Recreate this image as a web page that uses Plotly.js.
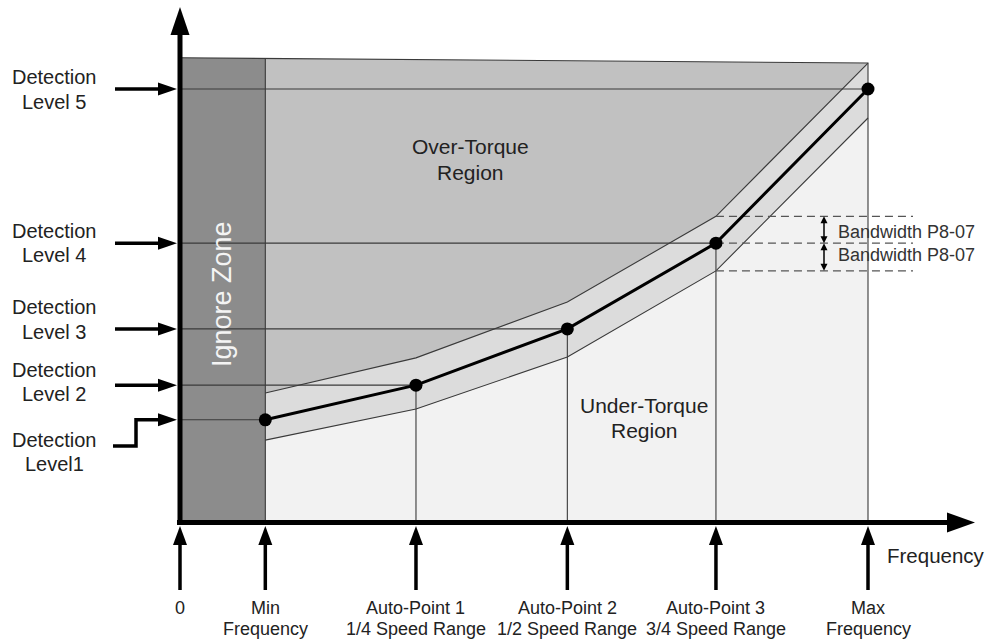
<!DOCTYPE html>
<html><head><meta charset="utf-8">
<script src="https://cdn.plot.ly/plotly-3.0.1.min.js"></script>
<style>html,body{margin:0;padding:0;background:#fff;}#chart{width:992px;height:639px;}</style>
</head><body><div id="chart"></div>
<script>
// ---- data ----
const freqLabelLine1 = ['0', 'Min', 'Auto-Point 1', 'Auto-Point 2', 'Auto-Point 3', 'Max'];
const freqLabelLine2 = ['', 'Frequency', '1/4 Speed Range', '1/2 Speed Range', '3/4 Speed Range', 'Frequency'];
const freqPositions = [0, 12.4, 34.3, 56.3, 77.9, 100];
const levelNames = ['Level1', 'Level 2', 'Level 3', 'Level 4', 'Level 5'];
const detectionLevels = [23.6, 31.6, 44.6, 64.4, 100];
const upperBand = [29.8, 37.9, 50.8, 70.6, 106.0];
const lowerBand = [18.9, 26.1, 38.1, 58.0, 93.3];
const topEdge = [107.2, 106.0];

// ---- pixel mapping (layout only) ----
const X0 = 180, Y0 = 522, KX = 6.88, KY = 4.33;
const dx = p => (p - X0) / KX, dy = p => (Y0 - p) / KY;
const px = x => X0 + x * KX, py = y => Y0 - y * KY;

const FONT = 'Liberation Sans, Arial, sans-serif';
const TXT = '#222';
const pts = freqPositions.slice(1);
const xMin = freqPositions[1], xMax = freqPositions[5], x0 = freqPositions[0];
const topAt = x => topEdge[0] + (topEdge[1] - topEdge[0]) * (x - x0) / (xMax - x0);

const traces = [];
// over-torque (whole area)
traces.push({x: [x0, xMax, xMax, x0], y: [topEdge[0], topEdge[1], 0, 0], fill: 'toself', fillcolor: '#c1c1c1', line: {width: 0}, mode: 'lines', hoverinfo: 'skip'});
// bandwidth band
traces.push({x: pts.concat(pts.slice().reverse()), y: upperBand.concat(lowerBand.slice().reverse()), fill: 'toself', fillcolor: '#dcdcdc', line: {width: 0}, mode: 'lines', hoverinfo: 'skip'});
// under-torque
traces.push({x: pts.concat([xMax, xMin]), y: lowerBand.concat([0, 0]), fill: 'toself', fillcolor: '#f2f2f2', line: {width: 0}, mode: 'lines', hoverinfo: 'skip'});
// ignore zone
traces.push({x: [x0, xMin, xMin, x0], y: [topEdge[0], topAt(xMin), 0, 0], fill: 'toself', fillcolor: '#8c8c8c', line: {width: 0}, mode: 'lines', hoverinfo: 'skip'});

// thin outlines
const thin = {color: '#3a3a3a', width: 1.1};
traces.push({x: [x0, xMax, xMax], y: [topEdge[0], topEdge[1], 0], mode: 'lines', line: thin, hoverinfo: 'skip'});
traces.push({x: [xMin, xMin], y: [0, topAt(xMin)], mode: 'lines', line: thin, hoverinfo: 'skip'});
traces.push({x: pts, y: upperBand, mode: 'lines', line: thin, hoverinfo: 'skip'});
traces.push({x: pts, y: lowerBand, mode: 'lines', line: thin, hoverinfo: 'skip'});
// level lines and verticals
const lx = [], ly = [];
detectionLevels.forEach((v, i) => { lx.push(x0, pts[i], null); ly.push(v, v, null); });
[1, 2, 3].forEach(i => { lx.push(pts[i], pts[i], null); ly.push(0, detectionLevels[i], null); });
traces.push({x: lx, y: ly, mode: 'lines', line: thin, hoverinfo: 'skip'});
// dashed bandwidth lines
const dEnd = dx(913);
traces.push({x: [pts[3], dEnd, null, pts[3], dEnd, null, pts[3], dEnd], y: [upperBand[3], upperBand[3], null, detectionLevels[3], detectionLevels[3], null, lowerBand[3], lowerBand[3]], mode: 'lines', line: {color: '#555', width: 1.3, dash: '8px,5px'}, hoverinfo: 'skip'});
// main curve
traces.push({x: pts, y: detectionLevels, mode: 'lines+markers', line: {color: '#000', width: 3}, marker: {color: '#000', size: 13}, hoverinfo: 'skip'});

// ---- shapes (arrows) in pixel space ----
const shapes = [];
function seg(x1, y1, x2, y2, w) {
  shapes.push({type: 'line', xref: 'x', yref: 'y', x0: dx(x1), y0: dy(y1), x1: dx(x2), y1: dy(y2), line: {color: '#000', width: w}});
}
function tri(tx, ty, ux, uy, len, hw) {
  const bx = tx - ux * len, by = ty - uy * len, nx = -uy, ny = ux;
  shapes.push({type: 'path', xref: 'x', yref: 'y',
    path: `M${dx(tx)},${dy(ty)}L${dx(bx + nx * hw)},${dy(by + ny * hw)}L${dx(bx - nx * hw)},${dy(by - ny * hw)}Z`,
    fillcolor: '#000', line: {width: 0}});
}
// axes
seg(180, 525, 180, 33, 5); tri(180, 7, 0, -1, 28, 9.5);
seg(177, 522.5, 949, 522.5, 5); tri(975, 522.5, 1, 0, 28, 10);
// bottom arrows
freqPositions.forEach(f => { const x = px(f); seg(x, 590, x, 543, 3.5); tri(x, 526, 0, -1, 19, 7); });
// left arrows
detectionLevels.forEach((v, i) => {
  const y = py(v);
  if (i === 0) {
    shapes.push({type: 'path', xref: 'x', yref: 'y', path: `M${dx(113)},${dy(446)}H${dx(136)}V${dy(y)}H${dx(160)}`, line: {color: '#000', width: 3.5}});
  } else { seg(115, y, 160, y, 3.5); }
  tri(177, y, 1, 0, 19, 6.5);
});
// small bandwidth arrows
const bxp = 824;
const yU = py(upperBand[3]), yM = py(detectionLevels[3]), yL = py(lowerBand[3]);
seg(bxp, yU + 4, bxp, yM - 4, 1.5); tri(bxp, yU, 0, -1, 7, 3.5); tri(bxp, yM, 0, 1, 7, 3.5);
seg(bxp, yM + 4, bxp, yL - 4, 1.5); tri(bxp, yM, 0, -1, 7, 3.5); tri(bxp, yL, 0, 1, 7, 3.5);

// ---- annotations ----
const ann = [];
function txt(x, y, t, size, opts) {
  ann.push(Object.assign({xref: 'x', yref: 'y', x: dx(x), y: dy(y), text: t, showarrow: false,
    xanchor: 'center', yanchor: 'middle', font: {family: FONT, size: size, color: TXT}}, opts || {}));
}
const labelCenters = [452, 382, 319.5, 243, 89.5];
levelNames.forEach((n, i) => { txt(54, labelCenters[i] - 12.3, 'Detection', 20); txt(54, labelCenters[i] + 12.3, n, 20); });
freqPositions.forEach((f, i) => {
  txt(px(f), 608, freqLabelLine1[i], 18);
  if (freqLabelLine2[i]) txt(px(f), 629, freqLabelLine2[i], 18);
});
txt(987, 555, 'Frequency', 20.5, {xanchor: 'right'});
txt(836, yM - 11.5, 'Bandwidth P8-07', 18, {xanchor: 'left', font: {family: FONT, size: 18, color: '#333'}});
txt(836, yM + 12, 'Bandwidth P8-07', 18, {xanchor: 'left', font: {family: FONT, size: 18, color: '#333'}});
txt(470, 146, 'Over-Torque', 21); txt(470, 172, 'Region', 21);
txt(644, 405, 'Under-Torque', 21); txt(644, 430, 'Region', 21);
txt(222, 294, 'Ignore Zone', 27, {textangle: -90, font: {family: FONT, size: 27, color: '#f4f4f4'}});

const layout = {
  width: 992, height: 639, margin: {l: 0, r: 0, t: 0, b: 0},
  paper_bgcolor: '#fff', plot_bgcolor: '#fff', showlegend: false,
  xaxis: {range: [dx(0), dx(992)], visible: false, fixedrange: true},
  yaxis: {range: [dy(639), dy(0)], visible: false, fixedrange: true},
  shapes: shapes, annotations: ann
};
Plotly.newPlot('chart', traces, layout, {displayModeBar: false, staticPlot: true});
</script></body></html>
